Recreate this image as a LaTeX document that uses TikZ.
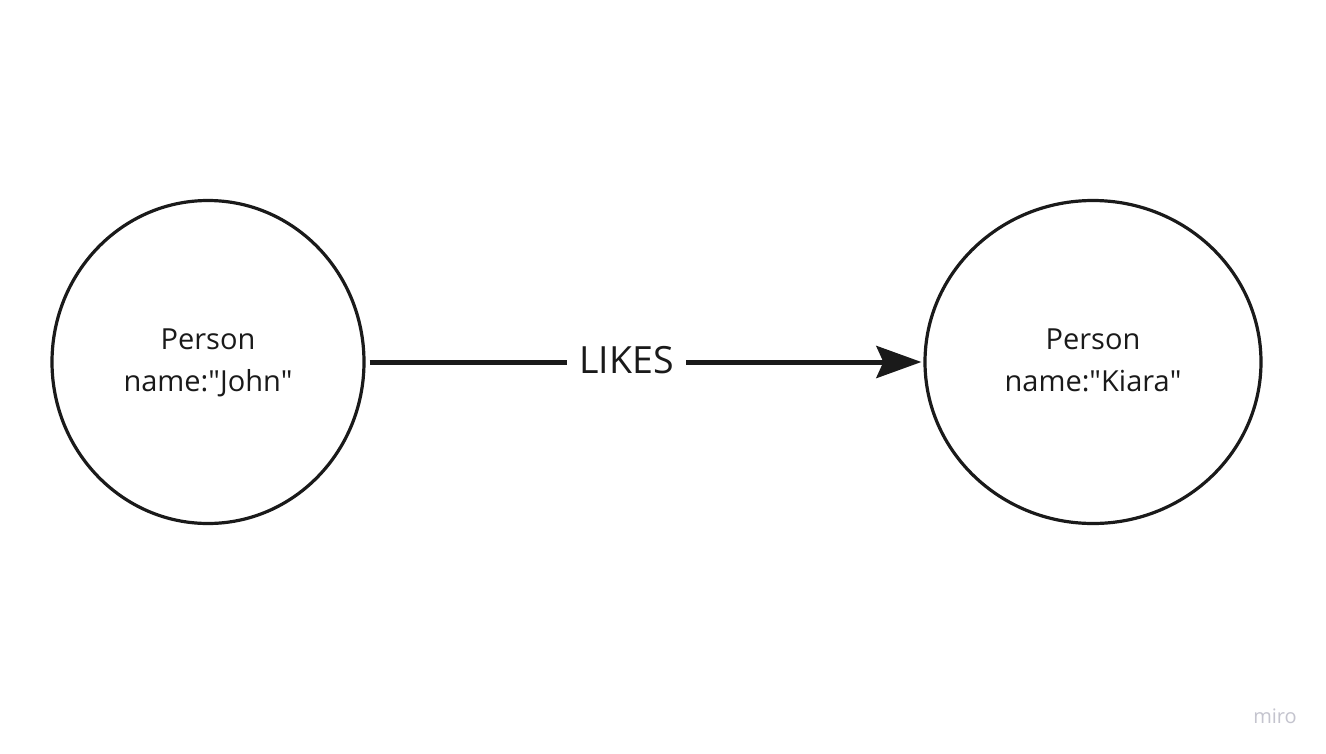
\documentclass[tikz,border=0pt]{standalone}
\usepackage{fontspec}
\setmainfont{Open Sans}
\usetikzlibrary{shapes.geometric,arrows.meta}
\definecolor{ink}{HTML}{1A1A1A}
\definecolor{wm}{HTML}{C4C4CE}
\tikzset{
  entity/.style={ellipse, draw=ink, line width=3.2pt, inner sep=0pt, align=center,
     font=\fontsize{29}{42}\selectfont, text=ink},
  rel/.style={draw=ink, line width=5pt, -{Stealth[length=45pt,width=32pt,inset=7pt]}},
  rellabel/.style={fill=white, inner xsep=12pt, inner ysep=2pt, font=\fontsize{37.5}{40}\selectfont, text=ink}
}
\begin{document}
\begin{tikzpicture}[x=1pt,y=-1pt]
\useasboundingbox[fill=white] (0,0) rectangle (1326,753);
\node[entity, minimum width=312pt, minimum height=323pt] (john) at (208,362) {\strut Person\\\strut name:\textquotedbl John\textquotedbl};
\node[entity, minimum width=336pt, minimum height=323pt] (kiara) at (1093,362) {\strut Person\\\strut name:\textquotedbl Kiara\textquotedbl};
\draw[rel, shorten <=4pt, shorten >=2pt] (john.east) -- node[rellabel, pos=0.468, yshift=2pt] (likes) {LIKES} (kiara.west);
\node[text=wm, font=\fontsize{20}{22}\selectfont] (miro) at (1275,716) {miro};
\end{tikzpicture}
\end{document}
